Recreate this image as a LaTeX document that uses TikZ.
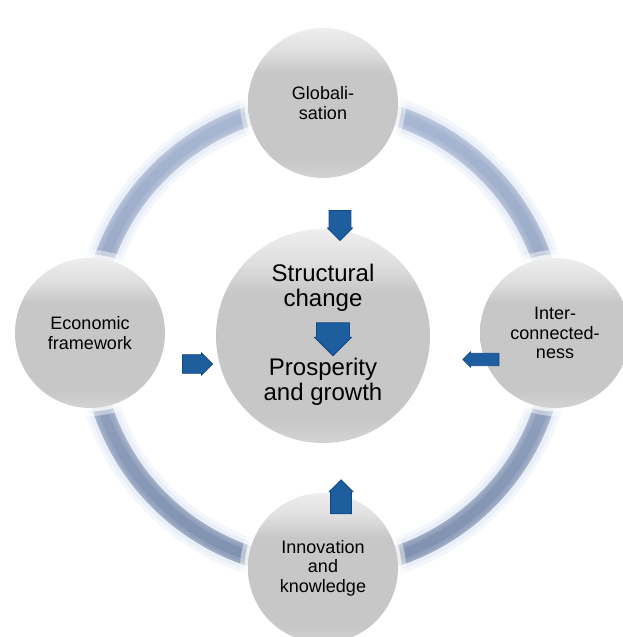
\documentclass[tikz,border=0pt]{standalone}
\usepackage{fontspec}
\setmainfont{Liberation Sans}
\usetikzlibrary{shapes.arrows}
\definecolor{ringblue}{HTML}{7A8CAB}
\definecolor{ringlight}{HTML}{A9B8D4}
\definecolor{ringglow}{HTML}{E4EAF7}
\definecolor{arrowblue}{HTML}{1F5E9E}
\definecolor{arrowline}{HTML}{0E4A86}
\definecolor{balltop}{HTML}{EEEEEE}
\definecolor{ballmid}{HTML}{C7C7C7}
\definecolor{ballbot}{HTML}{D3D3D3}
\pgfdeclareverticalshading{ballshade}{100bp}{color(0bp)=(ballbot); color(25bp)=(ballbot); color(31bp)=(ballmid); color(60bp)=(ballmid); color(67bp)=(balltop!60!ballmid); color(75bp)=(balltop); color(100bp)=(balltop)}
\tikzset{
  ball/.style={circle, shading=ballshade, minimum size=150pt, inner sep=0pt, align=center,
    font=\fontsize{18}{19.5}\selectfont,
    preaction={draw=white, line width=16pt, opacity=0.45},
    preaction={draw=white, line width=7pt, opacity=0.7}},
  hub/.style={ball, minimum size=214pt},
  hubtext/.style={align=center, font=\fontsize{24}{25}\selectfont},
  flowarrow/.style={single arrow, fill=arrowblue, draw=arrowline, line width=0.8pt,
    inner xsep=0pt, single arrow head extend=1pt}
}
\begin{document}
\begin{tikzpicture}[x=1pt,y=-1pt]
        \useasboundingbox (0,0) rectangle (622,637);
        % ring behind the circles
        \coordinate (mid) at (323,336);
        \draw[ringglow!45!white, line width=36pt] (mid) circle (232pt);
        \draw[ringglow!80!white, line width=28pt] (mid) circle (232pt);
        \shade[top color=ringlight, middle color=ringblue, bottom color=ringblue!90!ringlight, even odd rule]
            (mid) circle (242pt) (mid) circle (222pt);
        \draw[white, opacity=0.12, line width=5pt] (mid) circle (239.5pt);
        \draw[white, opacity=0.12, line width=5pt] (mid) circle (224.5pt);
        \draw[white, opacity=0.12, line width=2pt] (mid) circle (241pt);
        \draw[white, opacity=0.12, line width=2pt] (mid) circle (223pt);
        % circles
        \node[hub] (hub) at (mid) {};
        \node[ball] (glob) at (323,103) {Globali-\\sation};
        \node[ball] (econ) at (90,333) {Economic\\framework};
        \node[ball] (inter) at (555,333) {Inter-\\connected-\\ness};
        \node[ball] (innov) at (323,568) {Innovation\\and\\knowledge};
        \node[hubtext] (struct) at (323,288) {Structural\\change};
        \node[hubtext] (prosp) at (323,382) {Prosperity\\and growth};
        % block arrows towards the centre
        \node[flowarrow, rotate=-90, minimum height=30pt, minimum width=25pt, inner ysep=6.5pt] (arrG) at (340,220) {};
        \node[flowarrow, minimum height=30pt, minimum width=22pt, inner ysep=5pt] (arrE) at (193,364) {};
        \node[flowarrow, rotate=180, minimum height=36pt, minimum width=15pt, inner ysep=4.5pt] (arrI) at (484,359.5) {};
        \node[flowarrow, rotate=90, minimum height=34pt, minimum width=24pt, inner ysep=6pt] (arrN) at (341,502) {};
        \node[flowarrow, rotate=-90, minimum height=33pt, minimum width=37pt, inner ysep=8pt] (arrC) at (333,331) {};
\end{tikzpicture}
\end{document}
